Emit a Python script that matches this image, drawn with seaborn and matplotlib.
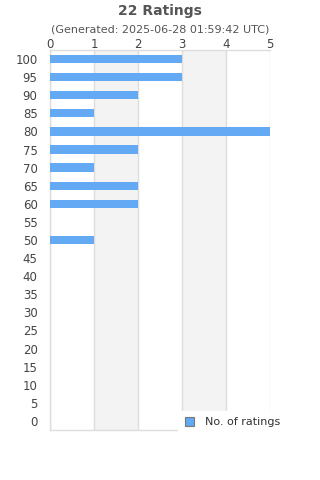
import pandas as pd
import matplotlib
matplotlib.use('Agg')
import matplotlib.pyplot as plt
import seaborn as sns

ratings = ['100', '95', '90', '85', '80', '75', '70', '65', '60', '55', '50',
           '45', '40', '35', '30', '25', '20', '15', '10', '5', '0']
counts = [3, 3, 2, 1, 5, 2, 1, 2, 2, 0, 1, 0, 0, 0, 0, 0, 0, 0, 0, 0, 0]
xticks = [0, 1, 2, 3, 4, 5]

df = pd.DataFrame({'rating': ratings, 'count': counts})

sns.set_style('white')
plt.rcParams['font.family'] = ['DejaVu Sans']

fig = plt.figure(figsize=(3.2, 4.8), dpi=100)
ax = fig.add_axes([50 / 320, 1 - 430 / 480, 220 / 320, 380 / 480])

# alternating bands
for i in range(1, 5, 2):
    ax.axvspan(xticks[i], xticks[i + 1], color='#f3f3f3', zorder=0, lw=0)

sns.barplot(data=df, x='count', y='rating', order=ratings, orient='h',
            color='#63a9f4', saturation=1, width=0.46, ax=ax, zorder=3,
            linewidth=0, label='No. of ratings')

ax.set_xlim(0, 5)
ax.set_ylim(len(ratings) - 0.5, -0.5)
ax.set_xticks(xticks)
ax.xaxis.tick_top()
ax.grid(axis='x', color='#dddddd', lw=1, zorder=1)
ax.set_axisbelow(True)
ax.set_xlabel('')
ax.set_ylabel('')
ax.tick_params(axis='both', length=0, labelsize=8.5, labelcolor='#444444')
ax.tick_params(axis='x', pad=-1)
ax.tick_params(axis='y', pad=9)
for side in ['left', 'bottom', 'top']:
    ax.spines[side].set_color('#dddddd')
    ax.spines[side].set_linewidth(1)
ax.spines['right'].set_visible(False)

fig.text(0.5, 1 - 11 / 480, '22 Ratings', ha='center', va='center',
         fontsize=10, fontweight='bold', color='#555555')
fig.text(0.5, 1 - 30 / 480, '(Generated: 2025-06-28 01:59:42 UTC)',
         ha='center', va='center', fontsize=8, color='#555555')

leg = ax.legend(loc='lower left', bbox_to_anchor=(178 / 320, 1 - 434 / 480),
                bbox_transform=fig.transFigure, frameon=True, fancybox=False,
                fontsize=8, handlelength=0.8, handleheight=0.8,
                borderpad=0.6, handletextpad=1.0, borderaxespad=0)
leg.get_frame().set_facecolor('white')
leg.get_frame().set_edgecolor('white')
leg.get_frame().set_alpha(1)
for h in leg.legend_handles:
    h.set_edgecolor('#777777')
    h.set_linewidth(0.8)
for t in leg.get_texts():
    t.set_color('#333333')
leg.set_zorder(10)

fig.savefig('out.png', dpi=100)
